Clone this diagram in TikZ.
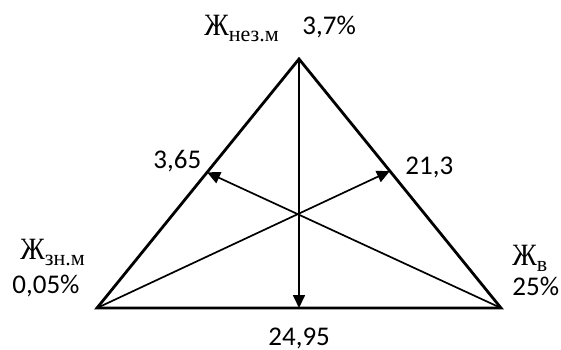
\documentclass[tikz,border=0pt]{standalone}
\usepackage{graphicx}
\usepackage{fontspec}
\setmainfont{Carlito}
\newfontfamily\cyrserif{Liberation Serif}
\usetikzlibrary{arrows.meta,calc}
\newcommand{\zhbig}{{\fontsize{15.5}{15.5}\selectfont\cyrserif\scalebox{0.88}[1]{Ж}}}
\newcommand{\zhsub}[1]{\raisebox{-3pt}{\fontsize{11}{11}\selectfont\cyrserif #1}}
\tikzset{
  tri/.style={line width=1.4pt},
  med/.style={line width=0.85pt,-{Triangle[length=6.5pt,width=6pt]}},
  lbl/.style={inner sep=0pt,anchor=base west,font=\fontsize{13.5}{16}\selectfont}
}
\begin{document}
\begin{tikzpicture}[x=0.5pt,y=-0.5pt]
\useasboundingbox (0,0) rectangle (561,349);
\coordinate (A) at (299,59);
\coordinate (B) at (97,308);
\coordinate (C) at (501,308);
\coordinate (M) at (299,308);
\coordinate (L) at ($(A)!0.455!(B)$);
\coordinate (R) at ($(A)!0.45!(C)$);
\draw[tri] (A) -- (B) -- (C) -- cycle;
\draw[med] (A) -- (M);
\draw[med] (C) -- (L);
\draw[med] (B) -- (R);
\node[lbl] (topzh) at (204,35) {\zhbig\zhsub{нез.м}};
\node[lbl] (toppct) at (302,34) {3,7\%};
\node[lbl] (lv) at (153,168) {3,65};
\node[lbl] (rv) at (405,174) {21,3};
\node[lbl] (leftzh) at (20,259) {\zhbig\zhsub{зн.м}};
\node[lbl] (leftpct) at (12,293) {0,05\%};
\node[lbl] (rightzh) at (512,265) {\zhbig\zhsub{в}};
\node[lbl] (rightpct) at (512,295) {25\%};
\node[lbl] (bv) at (268,345) {24,95};
\end{tikzpicture}
\end{document}
